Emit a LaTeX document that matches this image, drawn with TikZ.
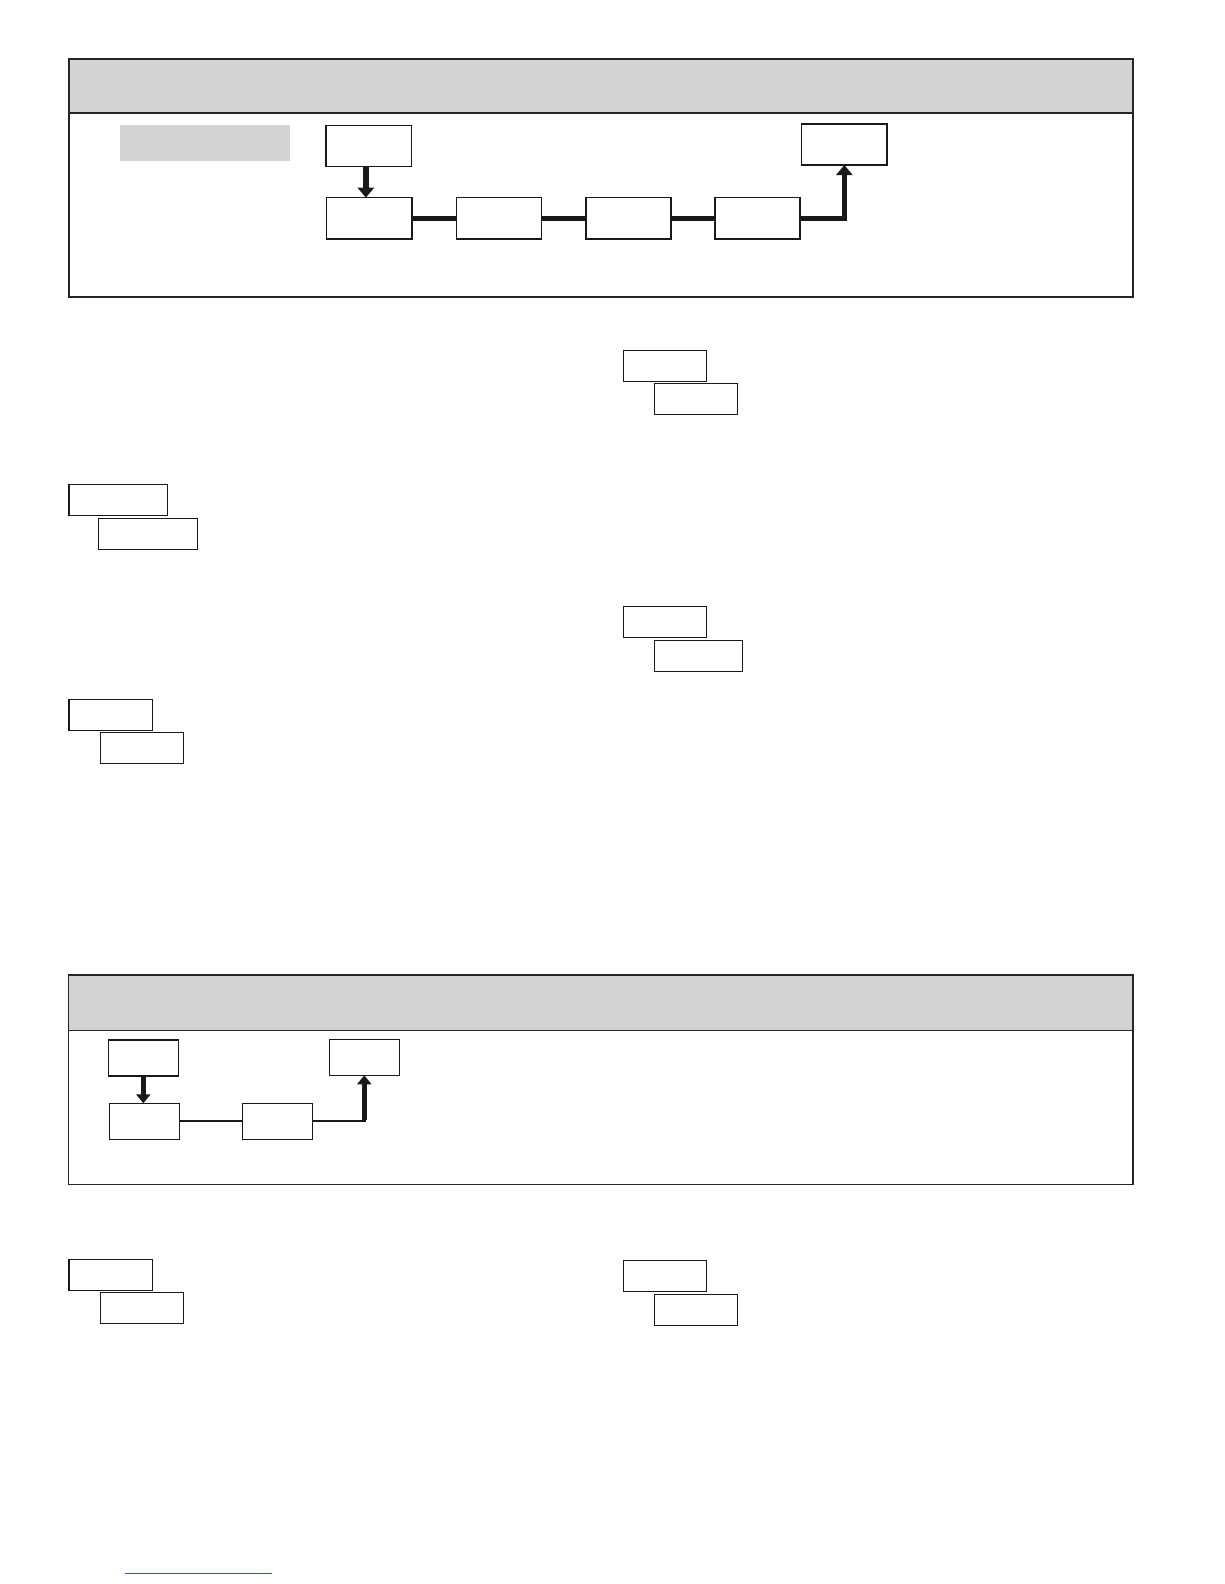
\documentclass[tikz,border=0pt]{standalone}
\usepackage{xcolor}
\usepackage{tikz}
\usetikzlibrary{arrows.meta, calc}

\definecolor{panelgray}{RGB}{211,211,211}
\definecolor{linkblue}{RGB}{60,80,200}

\tikzset{
    box/.style={draw=black!90, line width=1.3pt, inner sep=0pt, outer sep=0pt, anchor=north west},
    smallbox/.style={box, line width=1.2pt},
    flowline/.style={draw=black!90, line width=5pt},
    thinline/.style={draw=black!90, line width=2pt},
    flowarrow/.style={draw=black!90, line width=5.5pt, -{Triangle[width=16pt, length=10pt]}},
    smallarrow/.style={draw=black!90, line width=4.5pt, -{Triangle[width=14pt, length=9pt]}}
}

\begin{document}
\begin{tikzpicture}[x=1pt, y=-1pt]
                \useasboundingbox (0,0) rectangle (1224,1584);

                % top panel
                \fill[panelgray] (68.7,59) rectangle (1132.7,113.3);
                \draw[line width=1.7pt, draw=black!85] (68.7,59) rectangle (1132.7,296.7);
                \draw[line width=1.7pt, draw=black!85] (68.7,113.3) -- (1132.7,113.3);

                \node[anchor=north west, fill=panelgray, inner sep=0pt, minimum width=169.6, minimum height=35.7] (tab) at (120,125) {};
                \node[box, minimum width=85.7, minimum height=41] (a) at (326,125.7) {};
                \node[box, minimum width=85.3, minimum height=41] (e) at (801.7,124) {};
                \foreach[count=\i] \x/\w in {326.7/85.3, 456.7/84.6, 586/85, 715/85}
                    \node[box, minimum width=\w, minimum height=41.3] (b\i) at (\x,197.7) {};

                \draw[flowarrow] ([xshift=-3pt]a.south) -- ([xshift=-3pt]a.south |- b1.north);
                \foreach \i/\j in {1/2, 2/3, 3/4}
                    \draw[flowline] (b\i.east) -- (b\j.west);
                \draw[flowarrow] (b4.east) -| (e.south);

                % small boxes in pairs
                \foreach[count=\i] \x/\y/\w/\u/\v/\ww in {
                    623.3/350.7/83/654.3/383.3/83,
                    68.9/484.3/98.7/98.4/518.3/99.1,
                    623.4/606.3/83/654.6/640.3/88,
                    68.9/699.3/83.5/100.6/732.3/82.6,
                    68.9/1259.3/83.5/100.6/1292.3/82.6,
                    623.4/1260.3/83/654.6/1294.3/83.1} {
                    \node[smallbox, minimum width=\w, minimum height=30.8] (p\i) at (\x,\y) {};
                    \node[smallbox, minimum width=\ww, minimum height=30.8] (q\i) at (\u,\v) {};
                }

                % bottom panel
                \fill[panelgray] (68.5,975) rectangle (1132.7,1030.5);
                \draw[line width=1.7pt, draw=black!85] (68.5,975) rectangle (1132.7,1184.6);
                \draw[line width=1.7pt, draw=black!85] (68.5,1030.5) -- (1132.7,1030.5);

                \node[box, line width=1.2pt, minimum width=70, minimum height=36] (c1) at (108.3,1040) {};
                \node[box, line width=1.2pt, minimum width=70, minimum height=36] (c2) at (329.3,1039.3) {};
                \node[box, line width=1.2pt, minimum width=70, minimum height=36] (d1) at (109.3,1103.3) {};
                \node[box, line width=1.2pt, minimum width=69.6, minimum height=36] (d2) at (242.7,1103.3) {};

                \draw[smallarrow] (c1.south) -- (c1.south |- d1.north);
                \draw[thinline] (d1.east) -- (d2.west);
                \coordinate (k) at (d2.east -| c2.south);
                \draw[thinline] (d2.east) -- ([xshift=2pt]k);
                \draw[smallarrow] ([yshift=1pt]k) -- (c2.south);

                \draw[linkblue, line width=0.8pt] (125,1573) -- (271.7,1573);
            \end{tikzpicture}
\end{document}
